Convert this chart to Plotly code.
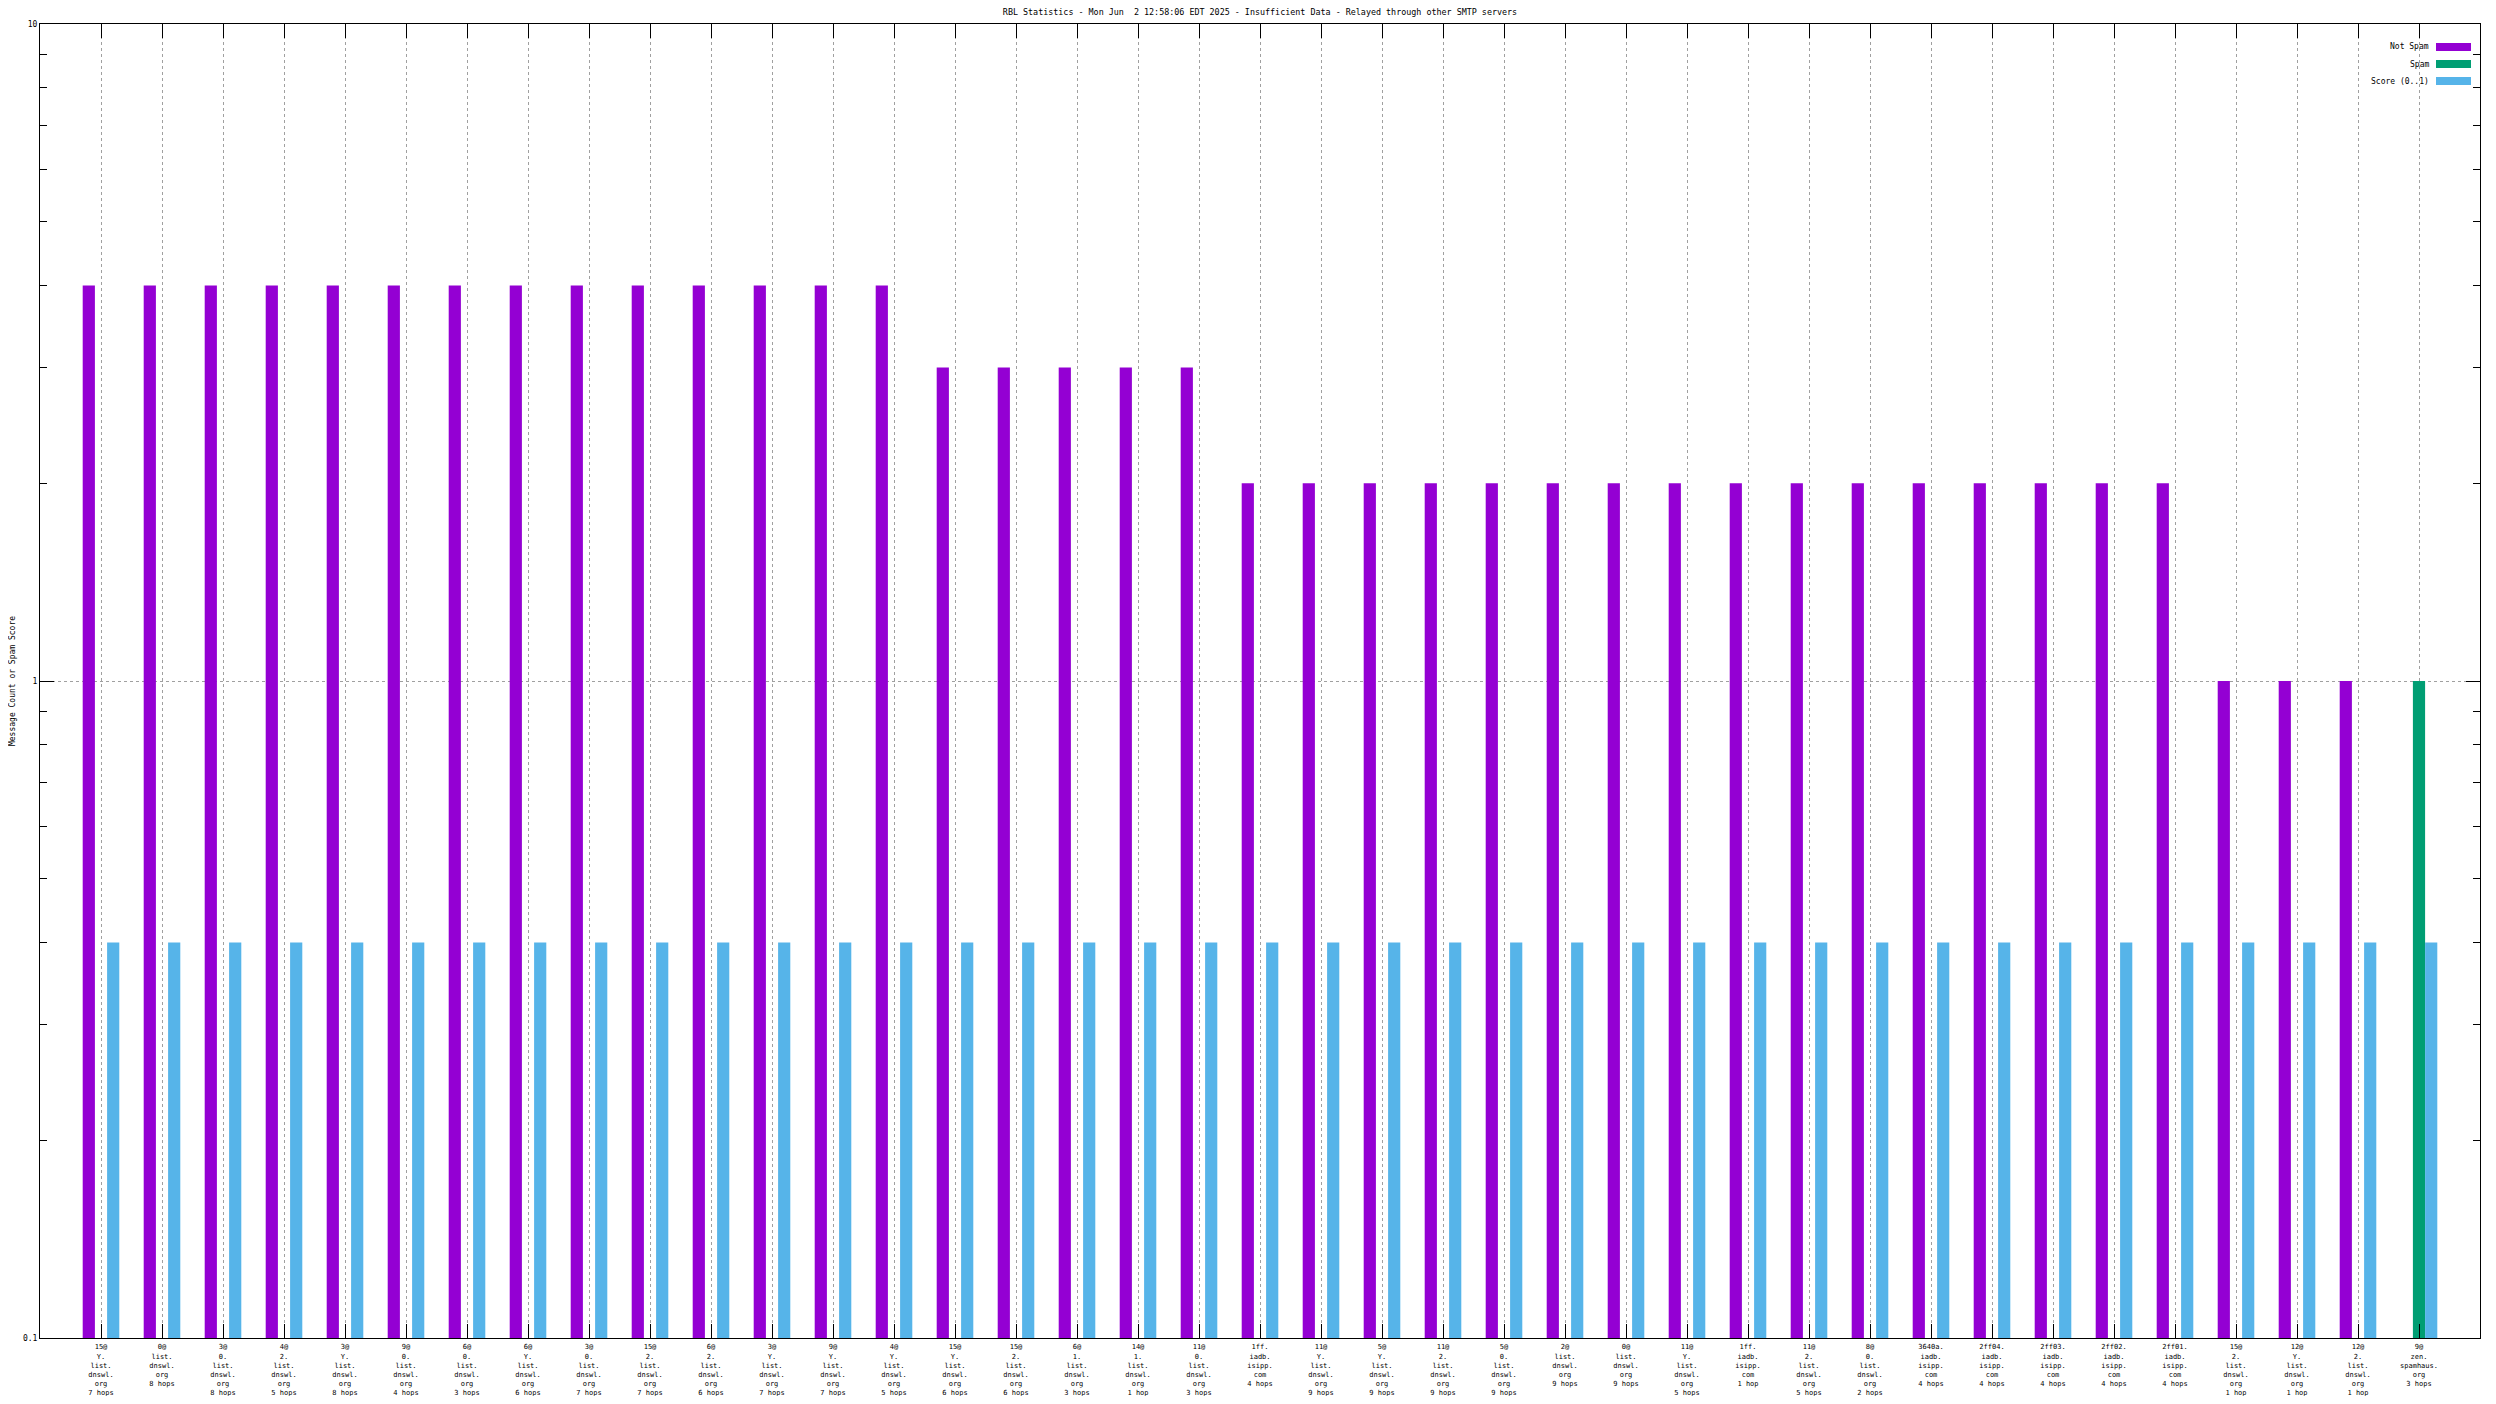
import plotly.graph_objects as go

categories = [
    "15@<br>Y.<br>list.<br>dnswl.<br>org<br>7 hops",
    "0@<br>list.<br>dnswl.<br>org<br>8 hops",
    "3@<br>0.<br>list.<br>dnswl.<br>org<br>8 hops",
    "4@<br>2.<br>list.<br>dnswl.<br>org<br>5 hops",
    "3@<br>Y.<br>list.<br>dnswl.<br>org<br>8 hops",
    "9@<br>0.<br>list.<br>dnswl.<br>org<br>4 hops",
    "6@<br>0.<br>list.<br>dnswl.<br>org<br>3 hops",
    "6@<br>Y.<br>list.<br>dnswl.<br>org<br>6 hops",
    "3@<br>0.<br>list.<br>dnswl.<br>org<br>7 hops",
    "15@<br>2.<br>list.<br>dnswl.<br>org<br>7 hops",
    "6@<br>2.<br>list.<br>dnswl.<br>org<br>6 hops",
    "3@<br>Y.<br>list.<br>dnswl.<br>org<br>7 hops",
    "9@<br>Y.<br>list.<br>dnswl.<br>org<br>7 hops",
    "4@<br>Y.<br>list.<br>dnswl.<br>org<br>5 hops",
    "15@<br>Y.<br>list.<br>dnswl.<br>org<br>6 hops",
    "15@<br>2.<br>list.<br>dnswl.<br>org<br>6 hops",
    "6@<br>1.<br>list.<br>dnswl.<br>org<br>3 hops",
    "14@<br>1.<br>list.<br>dnswl.<br>org<br>1 hop",
    "11@<br>0.<br>list.<br>dnswl.<br>org<br>3 hops",
    "1ff.<br>iadb.<br>isipp.<br>com<br>4 hops",
    "11@<br>Y.<br>list.<br>dnswl.<br>org<br>9 hops",
    "5@<br>Y.<br>list.<br>dnswl.<br>org<br>9 hops",
    "11@<br>2.<br>list.<br>dnswl.<br>org<br>9 hops",
    "5@<br>0.<br>list.<br>dnswl.<br>org<br>9 hops",
    "2@<br>list.<br>dnswl.<br>org<br>9 hops",
    "0@<br>list.<br>dnswl.<br>org<br>9 hops",
    "11@<br>Y.<br>list.<br>dnswl.<br>org<br>5 hops",
    "1ff.<br>iadb.<br>isipp.<br>com<br>1 hop",
    "11@<br>2.<br>list.<br>dnswl.<br>org<br>5 hops",
    "8@<br>0.<br>list.<br>dnswl.<br>org<br>2 hops",
    "3640a.<br>iadb.<br>isipp.<br>com<br>4 hops",
    "2ff04.<br>iadb.<br>isipp.<br>com<br>4 hops",
    "2ff03.<br>iadb.<br>isipp.<br>com<br>4 hops",
    "2ff02.<br>iadb.<br>isipp.<br>com<br>4 hops",
    "2ff01.<br>iadb.<br>isipp.<br>com<br>4 hops",
    "15@<br>2.<br>list.<br>dnswl.<br>org<br>1 hop",
    "12@<br>Y.<br>list.<br>dnswl.<br>org<br>1 hop",
    "12@<br>2.<br>list.<br>dnswl.<br>org<br>1 hop",
    "9@<br>zen.<br>spamhaus.<br>org<br>3 hops",
]

not_spam = [4] * 14 + [3] * 5 + [2] * 16 + [1] * 3 + [None]
spam = [None] * 38 + [1]
score = [0.4] * 39

series_names = ["Not Spam", "Spam", "Score (0..1)"]
series_colors = ["#9400D3", "#009E73", "#56B4E9"]

title_text = "RBL Statistics - Mon Jun  2 12:58:06 EDT 2025 - Insufficient Data - Relayed through other SMTP servers"
y_title = "Message Count or Spam Score"

FONT = "DejaVu Sans Mono"
xs = list(range(len(categories)))

fig = go.Figure()
for name, vals, col in zip(series_names, [not_spam, spam, score], series_colors):
    fig.add_trace(go.Bar(x=xs, y=vals, name=name, marker=dict(color=col, line=dict(width=0)),
                         showlegend=False))

# page has an 8px body margin; compensate so the plot lands where the reference has it
OFF = 8
W, H = 2496 - 2 * OFF, 1404 - 2 * OFF
PL, PR, PT, PB = 40, 2480, 24, 1338  # plot area in window pixels
L, T = PL - OFF, PT - OFF
R = W - (PR - OFF)
B = H - (PB - OFF)
pw = PR - PL
ph = PB - PT

minor_vals = [v * m for v in (0.1, 1) for m in range(2, 10)]

fig.update_layout(
    width=W, height=H,
    margin=dict(l=L, r=R, t=T, b=B, autoexpand=False),
    paper_bgcolor="white", plot_bgcolor="white",
    barmode="group", bargap=0.4, bargroupgap=0,
    font=dict(family=FONT, size=8, color="black"),
    title=dict(text=title_text, x=(PL + pw / 2 - OFF) / W, xanchor="center",
               y=1 - (12 - OFF) / H, yanchor="middle",
               font=dict(family=FONT, size=8.4, color="black")),
    xaxis=dict(
        range=[-1, len(categories)], tickmode="array", tickvals=xs, ticktext=categories,
        ticks="inside", ticklen=14, tickwidth=1, tickcolor="black",
        showline=True, linecolor="black", linewidth=1, mirror="ticks",
        showgrid=True, gridcolor="#a0a0a0", griddash="dot", gridwidth=1,
        zeroline=False, tickangle=0, tickfont=dict(family=FONT, size=7, color="black"),
        automargin=False, ticklabelstandoff=2,
    ),
    yaxis=dict(
        type="log", range=[-1, 1], tickmode="array", tickvals=[0.1, 1, 10], ticktext=["0.1", "1", "10"],
        ticks="inside", ticklen=14, tickwidth=1, tickcolor="black",
        showline=True, linecolor="black", linewidth=1, mirror="ticks",
        showgrid=True, gridcolor="#a0a0a0", griddash="dot", gridwidth=1,
        zeroline=False, tickfont=dict(family=FONT, size=8), automargin=False,
        minor=dict(tickmode="array", tickvals=minor_vals, ticks="inside", ticklen=7,
                   tickcolor="black", tickwidth=1, showgrid=False),
        title=dict(text=y_title, font=dict(family=FONT, size=8), standoff=12),
    ),
)

# custom gnuplot-style legend (text left, swatch right)
row_px = [47, 64, 81]
for name, col, yp in zip(series_names, series_colors, row_px):
    yc = 1 - (yp - PT) / ph
    fig.add_shape(type="rect", xref="paper", yref="paper",
                  x0=(2436 - PL) / pw, x1=(2471 - PL) / pw,
                  y0=yc - 4 / ph, y1=yc + 4 / ph,
                  fillcolor=col, line=dict(width=0), layer="above")
    fig.add_annotation(xref="paper", yref="paper", x=(2431 - PL) / pw, y=yc,
                       xanchor="right", yanchor="middle", text=name, showarrow=False,
                       font=dict(family=FONT, size=8, color="black"))

fig.write_html("out.html")
